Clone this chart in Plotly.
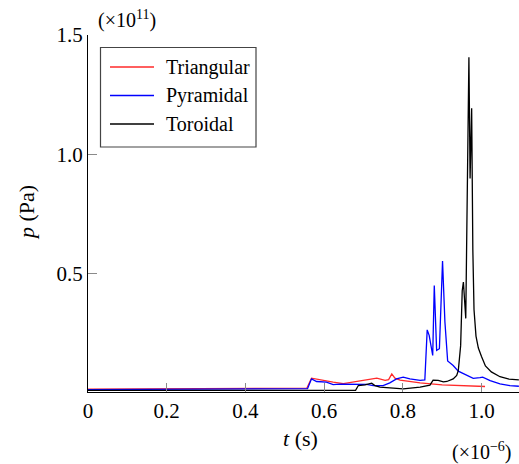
import plotly.graph_objects as go

# time in units of 1e-6 s, pressure in units of 1e11 Pa
tri_t = [0, 0.55, 0.556, 0.568, 0.598, 0.623, 0.649, 0.683, 0.717, 0.734, 0.755, 0.764,
         0.772, 0.78, 0.793, 0.818, 0.844, 0.9, 0.96, 1.009]
tri_p = [0.018, 0.019, 0.022, 0.064, 0.054, 0.047, 0.041, 0.05, 0.058, 0.064, 0.055, 0.058,
         0.082, 0.064, 0.056, 0.05, 0.044, 0.036, 0.032, 0.029]

pyr_t = [0, 0.55, 0.558, 0.568, 0.581, 0.606, 0.623, 0.64, 0.657, 0.674, 0.691, 0.708,
         0.725, 0.75, 0.767, 0.784, 0.801, 0.818, 0.844, 0.856, 0.862, 0.867, 0.876,
         0.88, 0.886, 0.893, 0.901, 0.907, 0.914, 0.928, 0.941, 0.962, 0.979, 0.996,
         1.003, 1.022, 1.047, 1.072, 1.095]
pyr_p = [0.016, 0.017, 0.02, 0.061, 0.05, 0.047, 0.037, 0.039, 0.038, 0.04, 0.036, 0.038,
         0.033, 0.033, 0.044, 0.061, 0.068, 0.061, 0.055, 0.057, 0.266, 0.243, 0.159,
         0.452, 0.18, 0.187, 0.554, 0.3, 0.136, 0.117, 0.093, 0.075, 0.063, 0.066,
         0.068, 0.054, 0.04, 0.033, 0.03]

tor_t = [0, 0.68, 0.687, 0.704, 0.721, 0.729, 0.742, 0.767, 0.801, 0.844, 0.869, 0.877,
         0.89, 0.903, 0.912, 0.928, 0.937, 0.941, 0.947, 0.951, 0.954, 0.96, 0.968,
         0.971, 0.975, 0.978, 0.981, 0.986, 0.992, 1.0, 1.01, 1.025, 1.047, 1.07, 1.095]
tor_p = [0.013, 0.013, 0.033, 0.036, 0.043, 0.033, 0.026, 0.022, 0.019, 0.026, 0.035, 0.056,
         0.055, 0.048, 0.05, 0.061, 0.075, 0.095, 0.2, 0.43, 0.466, 0.314, 1.407,
         0.9, 1.193, 0.6, 0.35, 0.24, 0.19, 0.155, 0.115, 0.09, 0.07, 0.06, 0.057]

series_names = ["Triangular", "Pyramidal", "Toroidal"]
series_colors = ["#ff2a2a", "#0000ff", "#000000"]

x_ticks = [0, 0.2, 0.4, 0.6, 0.8, 1.0]
x_ticktext = ["0", "0.2", "0.4", "0.6", "0.8", "1.0"]
y_ticks = [0.5, 1.0, 1.5]
y_ticktext = ["0.5", "1.0", "1.5"]

SERIF = "Liberation Serif"

fig = go.Figure()
for (t, p), name, color in zip([(tri_t, tri_p), (pyr_t, pyr_p), (tor_t, tor_p)],
                               series_names, series_colors):
    fig.add_trace(go.Scatter(x=t, y=p, mode="lines", name=name, showlegend=False,
                             line=dict(color=color, width=1.3)))

axis_common = dict(showgrid=False, zeroline=False, showline=True, linecolor="black",
                   linewidth=1.2, ticks="inside", ticklen=9, tickcolor="#8a8a8a",
                   tickwidth=1, tickfont=dict(family=SERIF, size=21, color="black"))

W, H = 519, 464
ML, MR, MT, MB = 88, 0, 35, 72
PW, PH = W - ML - MR, H - MT - MB


def px(x):
    return (x - ML) / PW


def py(y):
    return (H - MB - y) / PH


fig.update_layout(
    width=W, height=H,
    margin=dict(l=ML, r=MR, t=MT, b=MB),
    paper_bgcolor="white", plot_bgcolor="white",
    font=dict(family=SERIF, color="black"),
    xaxis=dict(range=[0, 1.0953], tickvals=x_ticks, ticktext=x_ticktext, **axis_common),
    yaxis=dict(range=[0.006, 1.5], tickvals=y_ticks, ticktext=y_ticktext, **axis_common),
    showlegend=False,
)

# legend box with line samples and labels
fig.add_shape(type="rect", xref="paper", yref="paper",
              x0=px(100.5), x1=px(256), y0=py(147), y1=py(47.5),
              line=dict(color="#444444", width=1.2), fillcolor="white", layer="above")
for i, (name, color) in enumerate(zip(series_names, series_colors)):
    yy = 67 + i * 28.5
    fig.add_shape(type="line", xref="paper", yref="paper",
                  x0=px(110), x1=px(154), y0=py(yy), y1=py(yy),
                  line=dict(color=color, width=1.3), layer="above")
    fig.add_annotation(text=name, xref="paper", yref="paper", x=px(164), y=py(yy),
                       xanchor="left", yanchor="middle", showarrow=False,
                       font=dict(family=SERIF, size=20, color="black"))

fig.add_annotation(text="<i>t</i> (s)", xref="paper", yref="paper", x=px(300), y=py(438),
                   xanchor="center", yanchor="middle", showarrow=False,
                   font=dict(family=SERIF, size=22))
fig.add_annotation(text="<i>p</i> (Pa)", xref="paper", yref="paper", x=px(26), y=py(213),
                   xanchor="center", yanchor="middle", showarrow=False, textangle=-90,
                   font=dict(family=SERIF, size=22))
fig.add_annotation(text="(×10<sup>11</sup>)", xref="paper", yref="paper", x=px(96), y=py(20),
                   xanchor="left", yanchor="middle", showarrow=False,
                   font=dict(family=SERIF, size=20))
fig.add_annotation(text="(×10<sup>−6</sup>)", xref="paper", yref="paper", x=px(514), y=py(451),
                   xanchor="right", yanchor="middle", showarrow=False,
                   font=dict(family=SERIF, size=20))

fig.write_html("out.html")
